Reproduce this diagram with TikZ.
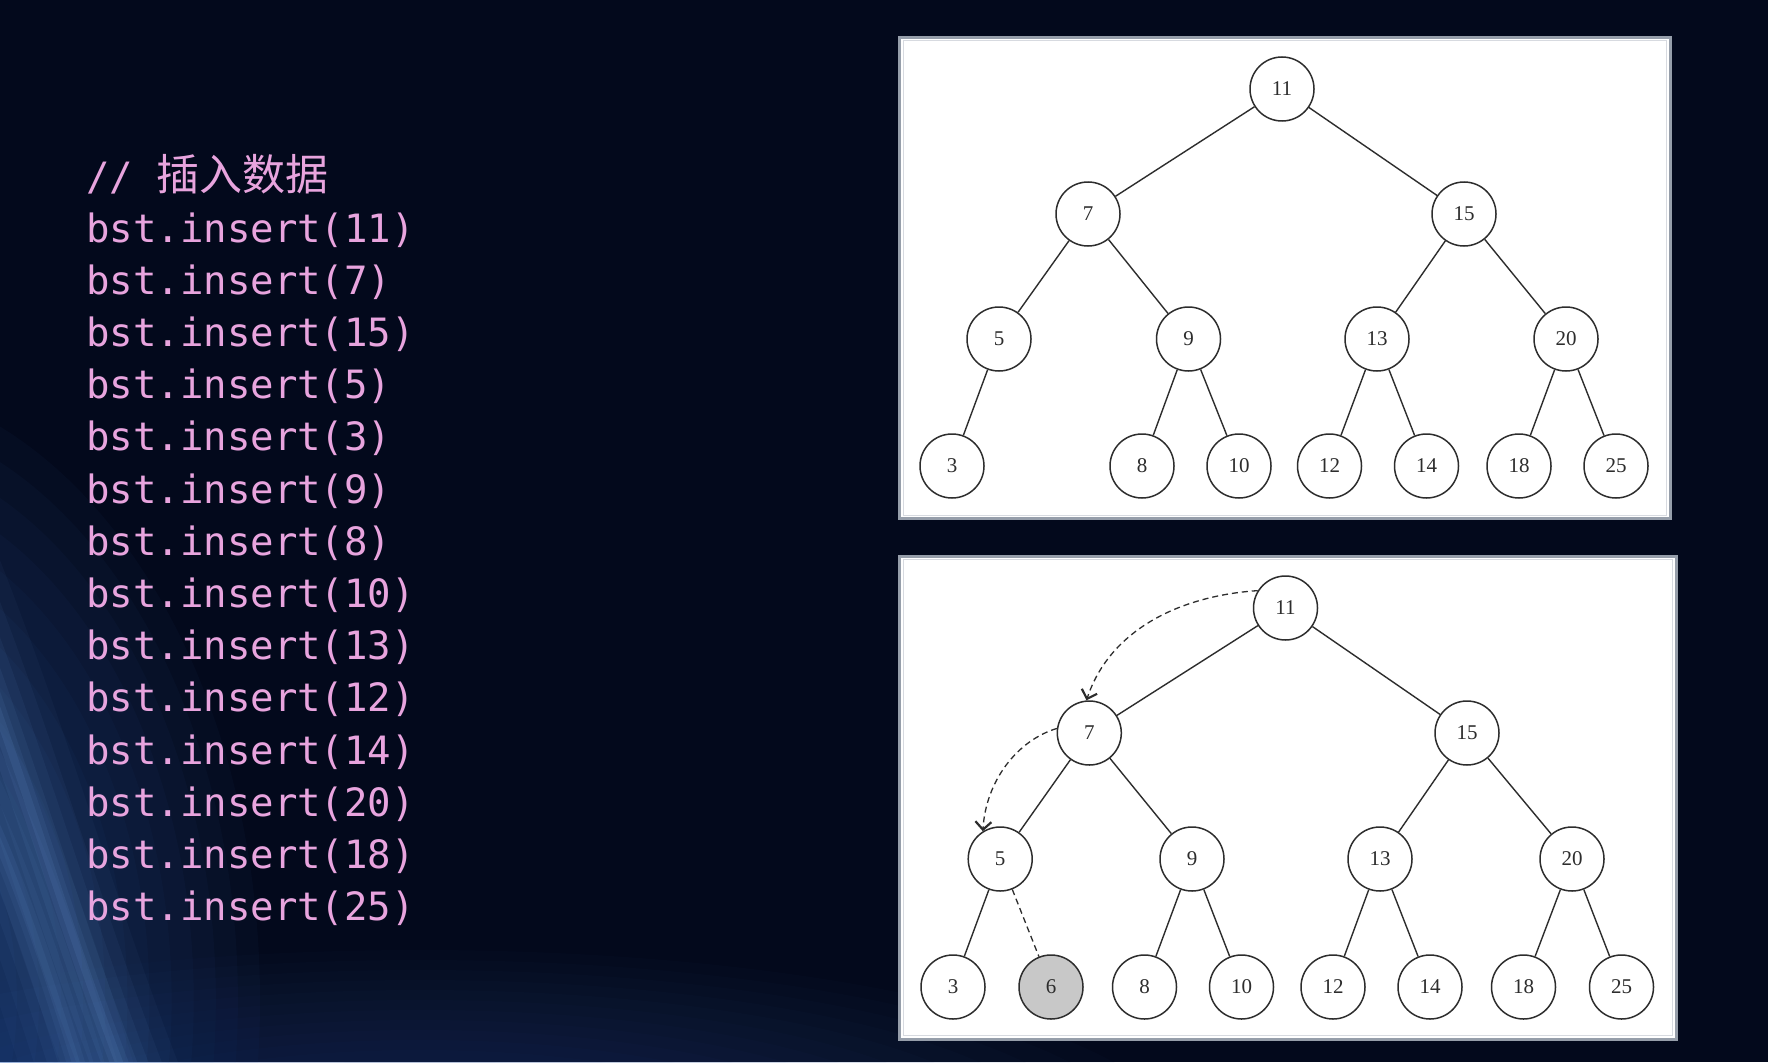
\documentclass[tikz,border=0pt]{standalone}
\usepackage{fontspec}
\setmainfont{Liberation Serif}
\newfontfamily\codefont{DejaVu Sans Mono}
\newfontfamily\cjkfont{Noto Sans CJK SC}
\usetikzlibrary{arrows.meta}
\definecolor{bgc}{RGB}{3,9,28}
\definecolor{glow}{RGB}{60,115,200}
\definecolor{glowb}{RGB}{40,75,140}
\definecolor{swoosh}{RGB}{120,170,235}
\definecolor{codepink}{RGB}{232,164,222}
\definecolor{framegray}{RGB}{150,158,170}
\definecolor{framelight}{RGB}{215,218,224}
\definecolor{inkc}{RGB}{45,45,45}
\definecolor{hilite}{RGB}{200,200,200}
\tikzset{
  bstnode/.style={circle, draw=inkc, line width=1.5pt, fill=white, minimum size=64pt, inner sep=0pt,
    text=inkc, font=\fontsize{21}{21}\selectfont},
  hlnode/.style={bstnode, fill=hilite},
  treeedge/.style={draw=inkc, line width=1.4pt},
  dashedge/.style={draw=inkc, line width=1.3pt, dash pattern=on 6pt off 4pt},
  patharrow/.style={draw=inkc, line width=1.3pt, dash pattern=on 6pt off 4pt,
    -{Straight Barb[length=8pt,width=16pt,line width=2.2pt]}},
  codeline/.style={anchor=base west, inner sep=0pt, text=codepink,
    font=\codefont\fontsize{39}{39}\selectfont},
  framebox/.style={fill=white, draw=framegray, line width=3pt},
  frameinner/.style={draw=framelight, line width=1pt}
}
\begin{document}
\begin{tikzpicture}[x=1pt,y=-1pt]
\useasboundingbox (0,0) rectangle (1768,1062);
% background
\fill[bgc] (0,0) rectangle (1768,1062);
\begin{scope}
\clip (0,0) rectangle (1768,1062);
\foreach \k in {0,...,17}{
  \fill[glowb, opacity=0.035] (420,1140) ellipse [x radius={760*(1-\k/19)}, y radius={190*(1-\k/19)}];
  \fill[glow, opacity=0.04] (-160,1000) ellipse [x radius={420*(1-\k/19)}, y radius={620*(1-\k/19)}];
}
\foreach \w/\o in {110/0.04,80/0.05,55/0.06,34/0.07,18/0.08,8/0.1}{
  \draw[swoosh, line width=\w pt, opacity=\o, line cap=round] (-120,420) .. controls (10,700) and (50,900) .. (150,1140);
  \draw[swoosh, line width=\w pt, opacity=0.8*\o, line cap=round] (-40,760) .. controls (20,880) and (50,980) .. (100,1140);
}
\end{scope}
% code text
\node[codeline] (l0) at (86,190) {//\ {\cjkfont\fontsize{43}{43}\selectfont 插入数据}};
\foreach \i/\v in {1/11,2/7,3/15,4/5,5/3,6/9,7/8,8/10,9/13,10/12,11/14,12/20,13/18,14/25}{
  \node[codeline] (l\i) at (86,{242+52.2*(\i-1)}) {bst.insert(\v)};
}
% frames
\path[framebox] (899.5,37.5) rectangle (1670,518.5);
\draw[frameinner] (903,41) rectangle (1666.5,515);
\path[framebox] (899.5,556) rectangle (1676,1039);
\draw[frameinner] (903,559.5) rectangle (1672.5,1035.5);
% top tree
\node[bstnode] (t11) at (1282,89) {11};
\node[bstnode] (t7) at (1088,214) {7};
\node[bstnode] (t15) at (1464,214) {15};
\node[bstnode] (t5) at (999,339) {5};
\node[bstnode] (t9) at (1188.5,339) {9};
\node[bstnode] (t13) at (1377,339) {13};
\node[bstnode] (t20) at (1566,339) {20};
\node[bstnode] (t3) at (952,466) {3};
\node[bstnode] (t8) at (1142,466) {8};
\node[bstnode] (t10) at (1239,466) {10};
\node[bstnode] (t12) at (1329.5,466) {12};
\node[bstnode] (t14) at (1426.5,466) {14};
\node[bstnode] (t18) at (1519,466) {18};
\node[bstnode] (t25) at (1616,466) {25};
\foreach \a/\b in {t11/t7,t11/t15,t7/t5,t7/t9,t15/t13,t15/t20,t5/t3,t9/t8,t9/t10,t13/t12,t13/t14,t20/t18,t20/t25}{
  \draw[treeedge] (\a) -- (\b);
}
% bottom tree
\node[bstnode] (b11) at (1285.5,608) {11};
\node[bstnode] (b7) at (1089.3,733) {7};
\node[bstnode] (b15) at (1467,733) {15};
\node[bstnode] (b5) at (1000.2,859) {5};
\node[bstnode] (b9) at (1192,859) {9};
\node[bstnode] (b13) at (1380,859) {13};
\node[bstnode] (b20) at (1572,859) {20};
\node[bstnode] (b3) at (953,987) {3};
\node[hlnode] (b6) at (1051,987) {6};
\node[bstnode] (b8) at (1144.5,987) {8};
\node[bstnode] (b10) at (1241.5,987) {10};
\node[bstnode] (b12) at (1333,987) {12};
\node[bstnode] (b14) at (1430,987) {14};
\node[bstnode] (b18) at (1523.5,987) {18};
\node[bstnode] (b25) at (1621.5,987) {25};
\foreach \a/\b in {b11/b7,b11/b15,b7/b5,b7/b9,b15/b13,b15/b20,b5/b3,b9/b8,b9/b10,b13/b12,b13/b14,b20/b18,b20/b25}{
  \draw[treeedge] (\a) -- (\b);
}
\draw[dashedge] (b5) -- (b6);
\draw[patharrow] (b11.148) .. controls +(-77,5) and +(23.5,-71) .. (b7.95);
\draw[patharrow] (b7.172) .. controls +(-40,12) and +(3,-50) .. (b5.122);
\end{tikzpicture}
\end{document}
